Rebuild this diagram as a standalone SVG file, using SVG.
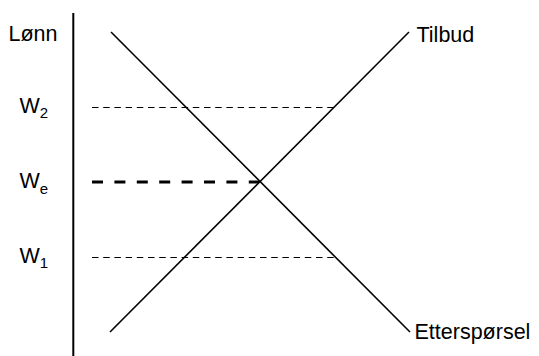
<svg xmlns="http://www.w3.org/2000/svg" width="539" height="356" viewBox="0 0 539 356">
<style>
.t{font-family:"Liberation Sans",Arial,sans-serif;font-size:21.5px;fill:#000}
.s{font-size:15px}
.ln{stroke:#000;fill:none}
</style>
<rect width="539" height="356" fill="#fff"/>
<g id="connectors">
<line id="axis" class="ln" x1="73.3" y1="13" x2="73.3" y2="356" stroke-width="2"/>
<line id="demand" class="ln" x1="111" y1="32" x2="410" y2="332" stroke-width="1.6"/>
<line id="supply" class="ln" x1="110" y1="332" x2="409" y2="32" stroke-width="1.6"/>
<line id="w2line" class="ln" x1="92" y1="107.5" x2="335" y2="107.5" stroke-width="1.1" stroke-dasharray="6.5 4.7"/>
<line id="weline" class="ln" x1="92" y1="182" x2="259" y2="182" stroke-width="3" stroke-dasharray="11 11.4"/>
<line id="w1line" class="ln" x1="92" y1="257.5" x2="335" y2="257.5" stroke-width="1.1" stroke-dasharray="6.5 4.7"/>
</g>
<g id="lonn"><text class="t" x="8.5" y="41">Lønn</text></g>
<g id="w2"><text class="t" x="19.5" y="113">W<tspan class="s" dy="5">2</tspan></text></g>
<g id="we"><text class="t" x="19.5" y="188">W<tspan class="s" dy="6">e</tspan></text></g>
<g id="w1"><text class="t" x="19.5" y="263">W<tspan class="s" dy="5">1</tspan></text></g>
<g id="tilbud"><text class="t" x="416.5" y="42">Tilbud</text></g>
<g id="ettersporsel"><text class="t" x="414.5" y="339">Etterspørsel</text></g>
</svg>
